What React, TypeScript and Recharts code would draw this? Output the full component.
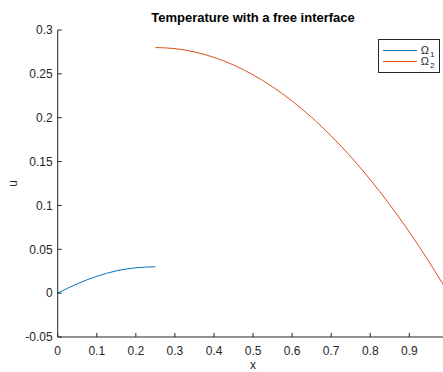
import React from "react";
import { LineChart, Line, XAxis, YAxis, Legend } from "recharts";

// inner region Ω1 (0 <= x <= 0.25)
const xInner = [0, 0.025, 0.05, 0.075, 0.1, 0.125, 0.15, 0.175, 0.2, 0.225, 0.25];
const uInner = [0, 0.0055, 0.0106, 0.0152, 0.0192, 0.0226, 0.0254, 0.0275, 0.0289, 0.0297, 0.03];

// outer region Ω2 (0.25 <= x <= 1)
const xOuter = [0.25, 0.3, 0.35, 0.4, 0.45, 0.5, 0.55, 0.6, 0.65, 0.7, 0.75, 0.8, 0.85, 0.9, 0.95, 1];
const uOuter = [0.28, 0.2788, 0.275, 0.2688, 0.2601, 0.2489, 0.2352, 0.219, 0.2004, 0.1792, 0.1556, 0.1294, 0.1008, 0.0697, 0.0361, 0];

const xTicks = [0, 0.1, 0.2, 0.3, 0.4, 0.5, 0.6, 0.7, 0.8, 0.9];
const yTicks = [-0.05, 0, 0.05, 0.1, 0.15, 0.2, 0.25, 0.3];

const seriesNames = ["1", "2"];
const seriesColors = ["#0072BD", "#D95319"];

const innerData = xInner.map((x, i) => ({ x, u: uInner[i] }));
const outerData = xOuter.map((x, i) => ({ x, u: uOuter[i] }));

const FONT = '"Liberation Sans", Arial, Helvetica, sans-serif';
const AXIS = "#262626";

const OmegaLegend = () => (
  <div
    style={{
      boxSizing: "border-box",
      width: 62,
      height: 34,
      border: `1px solid ${AXIS}`,
      background: "#fff",
      padding: "5px 4px",
      fontFamily: FONT,
      color: AXIS,
    }}
  >
    {seriesNames.map((name, i) => (
      <div key={name} style={{ display: "flex", alignItems: "center", height: 11 }}>
        <span style={{ width: 35, borderTop: `1px solid ${seriesColors[i]}`, marginRight: 4 }} />
        <span style={{ fontSize: 11, lineHeight: "11px" }}>
          Ω
          <sub style={{ fontSize: 8, lineHeight: 0, verticalAlign: "-3px", marginLeft: 1 }}>{name}</sub>
        </span>
      </div>
    ))}
  </div>
);

export default function App() {
  return (
    <div
      style={{
        position: "absolute",
        left: 0,
        top: 0,
        width: 443,
        height: 372,
        overflow: "hidden",
        background: "#fff",
        fontFamily: FONT,
      }}
    >
      <div
        style={{
          position: "absolute",
          left: 57.7,
          width: 390.7,
          top: 10,
          textAlign: "center",
          fontSize: 13,
          lineHeight: "16px",
          fontWeight: "bold",
          color: "#000",
        }}
      >
        Temperature with a free interface
      </div>
      <LineChart
        width={460}
        height={372}
        margin={{ top: 30, right: 11.6, bottom: 0, left: 0 }}
        style={{ fontFamily: FONT }}
      >
        <XAxis
          dataKey="x"
          type="number"
          domain={[0, 1]}
          ticks={xTicks}
          interval={0}
          height={35}
          allowDataOverflow
          stroke={AXIS}
          tickSize={-4}
          tickMargin={13.5}
          tick={{ fill: AXIS, fontSize: 12 }}
          label={{ value: "x", position: "insideBottom", offset: 3, fill: AXIS, fontSize: 12 }}
        />
        <YAxis
          type="number"
          domain={[-0.05, 0.3]}
          ticks={yTicks}
          interval={0}
          width={57.7}
          allowDataOverflow
          stroke={AXIS}
          tickSize={-4}
          tickMargin={9}
          tick={{ fill: AXIS, fontSize: 12 }}
          label={{
            value: "u",
            angle: -90,
            position: "insideLeft",
            offset: 13,
            fill: AXIS,
            fontSize: 12,
            style: { textAnchor: "middle" },
          }}
        />
        <Legend
          layout="horizontal"
          verticalAlign="middle"
          align="center"
          wrapperStyle={{ left: 377.5, top: 39.3, width: "auto", height: "auto" }}
          content={() => <OmegaLegend />}
        />
        <Line
          data={innerData}
          dataKey="u"
          type="monotone"
          stroke={seriesColors[0]}
          strokeWidth={1}
          dot={false}
          activeDot={false}
          isAnimationActive={false}
        />
        <Line
          data={outerData}
          dataKey="u"
          type="monotone"
          stroke={seriesColors[1]}
          strokeWidth={1}
          dot={false}
          activeDot={false}
          isAnimationActive={false}
        />
      </LineChart>
    </div>
  );
}
